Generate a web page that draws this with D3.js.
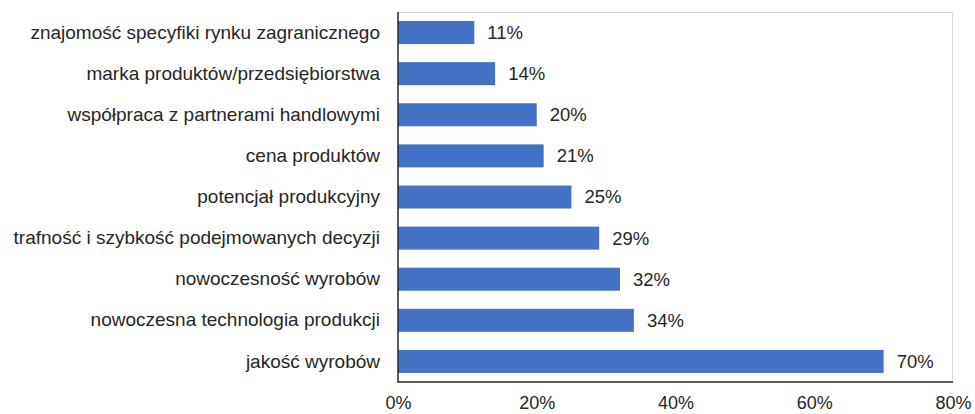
<!DOCTYPE html>
<html>
<head>
<meta charset="utf-8">
<script src="https://cdn.jsdelivr.net/npm/d3@7"></script>
<style>
  html, body { margin: 0; padding: 0; background: #fff; }
  svg { display: block; }
  svg text { font-family: "Liberation Sans", Arial, sans-serif; fill: #262626; }
</style>
</head>
<body>
<svg id="chart" width="975" height="414"></svg>
<script>
// Factors of competitiveness on foreign markets (share of firms, %)
const categories = [
  "znajomość specyfiki rynku zagranicznego",
  "marka produktów/przedsiębiorstwa",
  "współpraca z partnerami handlowymi",
  "cena produktów",
  "potencjał produkcyjny",
  "trafność i szybkość podejmowanych decyzji",
  "nowoczesność wyrobów",
  "nowoczesna technologia produkcji",
  "jakość wyrobów"
];
const values = [11, 14, 20, 21, 25, 29, 32, 34, 70];
const tickValues = [0, 20, 40, 60, 80];

const svg = d3.select("#chart");
const margin = { top: 12, right: 22, bottom: 32, left: 398 };
const W = 975, H = 414;
const innerW = W - margin.left - margin.right;
const innerH = H - margin.top - margin.bottom;

const g = svg.append("g").attr("transform", `translate(${margin.left},${margin.top})`);

const x = d3.scaleLinear().domain([0, 80]).range([0, innerW]);
const y = d3.scaleBand().domain(categories).range([0, innerH]).paddingInner(0.44).paddingOuter(0.22);

// Plot frame (light top and right edges)
g.append("path")
  .attr("d", `M0,0.5H${innerW - 0.5}V${innerH}`)
  .attr("fill", "none")
  .attr("stroke", "#d9d9d9")
  .attr("stroke-width", 1);

// Bars
g.selectAll("rect.bar")
  .data(values)
  .join("rect")
  .attr("class", "bar")
  .attr("x", 0)
  .attr("y", (d, i) => y(categories[i]))
  .attr("width", d => x(d))
  .attr("height", y.bandwidth())
  .attr("fill", "#4472c4");

// Value labels
g.selectAll("text.val")
  .data(values)
  .join("text")
  .attr("class", "val")
  .attr("x", d => x(d) + 13)
  .attr("y", (d, i) => y(categories[i]) + y.bandwidth() / 2)
  .attr("dy", "0.35em")
  .attr("font-size", 18.5)
  .text(d => d + "%");

// Category axis
const yAxis = g.append("g")
  .call(d3.axisLeft(y).tickSize(0).tickPadding(18));
yAxis.select(".domain").remove();
yAxis.selectAll("text")
  .attr("font-size", 19)
  .attr("font-family", null);

// Value axis
const xAxis = g.append("g")
  .attr("transform", `translate(0,${innerH})`)
  .call(d3.axisBottom(x).tickValues(tickValues).tickFormat(d => d + "%").tickSize(0).tickPadding(14));
xAxis.select(".domain").remove();
xAxis.selectAll("text")
  .attr("font-size", 18)
  .attr("font-family", null);
xAxis.attr("font-family", null);
yAxis.attr("font-family", null);

// Axis lines
g.append("line")
  .attr("x1", 0).attr("x2", 0).attr("y1", 0).attr("y2", innerH + 0.5)
  .attr("stroke", "#262626").attr("stroke-width", 1.5);
g.append("line")
  .attr("x1", 0).attr("x2", innerW).attr("y1", innerH).attr("y2", innerH)
  .attr("stroke", "#262626").attr("stroke-width", 1.5);
</script>
</body>
</html>
